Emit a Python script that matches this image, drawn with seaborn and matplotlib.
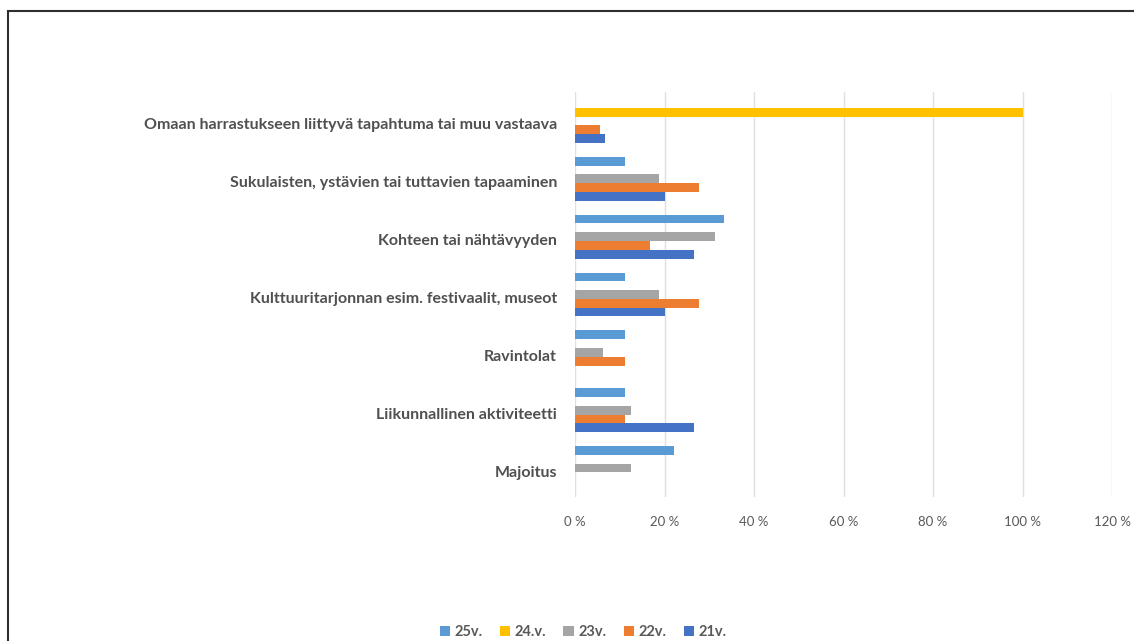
import matplotlib
matplotlib.use("Agg")
import matplotlib.pyplot as plt
import matplotlib.patches as mpatches
import matplotlib.transforms as mtransforms
from matplotlib.ticker import FuncFormatter
import seaborn as sns
import pandas as pd

categories = [
    "Omaan harrastukseen liittyvä tapahtuma tai muu vastaava",
    "Sukulaisten, ystävien tai tuttavien tapaaminen",
    "Kohteen tai nähtävyyden",
    "Kulttuuritarjonnan esim. festivaalit, museot",
    "Ravintolat",
    "Liikunnallinen aktiviteetti",
    "Majoitus",
]
series_names = ["25v.", "24.v.", "23v.", "22v.", "21v."]
v25 = [0.0, 11.1, 33.3, 11.1, 11.1, 11.1, 22.2]
v24 = [100.0, 0.0, 0.0, 0.0, 0.0, 0.0, 0.0]
v23 = [0.0, 18.8, 31.3, 18.8, 6.3, 12.5, 12.5]
v22 = [5.6, 27.8, 16.7, 27.8, 11.1, 11.1, 0.0]
v21 = [6.7, 20.0, 26.7, 20.0, 0.0, 26.7, 0.0]
colors = ["#5B9BD5", "#FFC000", "#A5A5A5", "#ED7D31", "#4472C4"]
x_ticks = [0, 20, 40, 60, 80, 100, 120]

rows = []
for name, vals in zip(series_names, [v25, v24, v23, v22, v21]):
    for cat, v in zip(categories, vals):
        rows.append({"Kategoria": cat, "Sarja": name, "Osuus": v})
df = pd.DataFrame(rows)

sns.set_theme(style="white")
plt.rcParams["font.family"] = ["Lato", "DejaVu Sans"]

fig = plt.figure(figsize=(11.34, 6.41), dpi=100)
ax = fig.add_axes([575 / 1134, 1 - 497 / 641, (1112 - 575) / 1134, (497 - 92) / 641])

sns.barplot(
    data=df, y="Kategoria", x="Osuus", hue="Sarja",
    order=categories, hue_order=series_names,
    palette=colors, orient="h", width=0.76, gap=0,
    saturation=1, errorbar=None, ax=ax, legend=True,
    linewidth=0,
)

ax.set_xlim(0, 120)
ax.set_xticks(x_ticks)
ax.xaxis.set_major_formatter(FuncFormatter(lambda v, p: f"{int(v)} %"))
ax.grid(axis="x", color="#E0E0E0", linewidth=1)
ax.grid(axis="y", visible=False)
ax.set_axisbelow(True)
for s in ax.spines.values():
    s.set_visible(False)
ax.set_xlabel("")
ax.set_ylabel("")
ax.tick_params(axis="x", length=0, pad=14, labelsize=9.5, labelcolor="#595959")
ax.tick_params(axis="y", length=0, pad=13, labelcolor="#505050")
shift = mtransforms.ScaledTranslation(0, -3 / 100, fig.dpi_scale_trans)
for lbl in ax.get_yticklabels():
    lbl.set_fontweight("bold")
    lbl.set_fontsize(11.5)
    lbl.set_transform(lbl.get_transform() + shift)

handles, labels = ax.get_legend_handles_labels()
ax.legend_.remove()
leg = fig.legend(
    handles, labels, loc="center", bbox_to_anchor=(583 / 1134, 1 - 632 / 641),
    ncol=5, frameon=False, handlelength=0.7, handleheight=0.7,
    handletextpad=0.3, columnspacing=1.2,
    prop={"size": 10.5, "weight": "bold"},
)
for t in leg.get_texts():
    t.set_color("#595959")

# outer frame around the chart area
frame = mpatches.Rectangle(
    (7.5 / 1134, -0.1), 1.2, 1 - 11 / 641 + 0.1,
    transform=fig.transFigure, fill=False,
    edgecolor="#2e2e2e", linewidth=1.5, clip_on=False,
)
fig.patches.append(frame)

fig.savefig("out.png", dpi=100)
